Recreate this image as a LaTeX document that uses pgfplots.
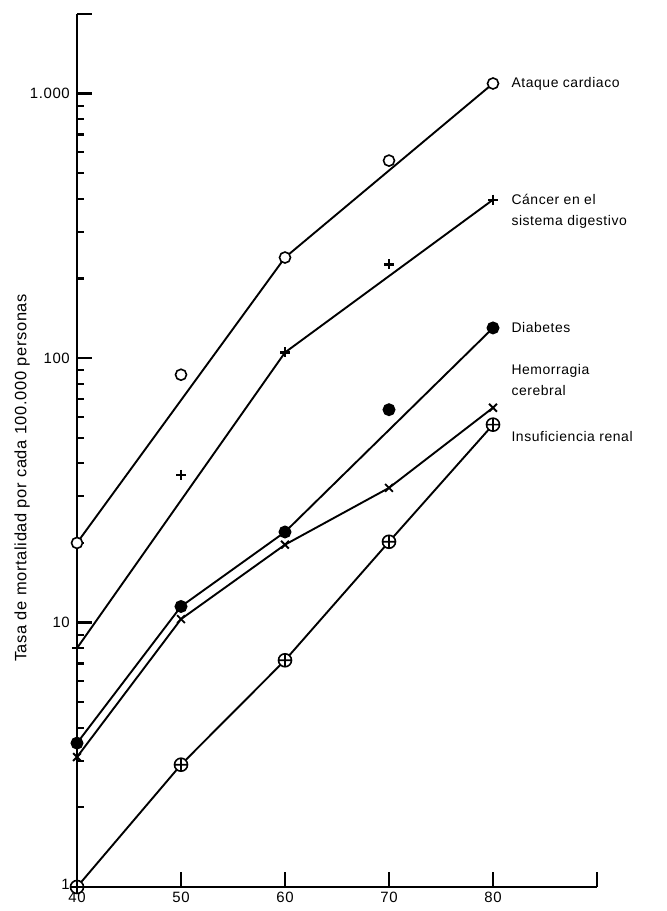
\documentclass[border=0pt]{standalone}
\usepackage{fontspec}
\setmainfont{Liberation Sans}[LetterSpace=4]
\usepackage{pgfplots}
\pgfplotsset{compat=1.18}
\begin{document}
\begin{tikzpicture}
\begin{axis}[
 at={(77bp,24bp)}, anchor=south west,
 scale only axis, width=520bp, height=873bp,
 xmin=40, xmax=90, ymin=1, ymax=2000, ymode=log,
 line width=1.9bp,
 axis x line*=bottom, axis y line*=left,
 axis line style={line width=1.9bp},
 xtick={40,50,...,90}, xticklabels={40,50,60,70,80,{}},
 ytick={1,10,100,1000,2000}, yticklabels={\raisebox{5bp}{1},10,100,{1.000},{}},
 minor ytick={2,...,9,20,30,...,90,200,300,...,900},
 tick align=inside,
 major tick length=15bp, minor tick length=7bp,
 tick style={line width=2.2bp, black},
 major tick style={line width=2.2bp, black},
 minor tick style={line width=2.2bp, black},
 every tick label/.append style={font=\fontsize{15}{17}\selectfont},
 x tick label style={yshift=-1bp},
 y tick label style={xshift=-3bp},
 /pgf/number format/assume math mode=true,
 clip=false,
]
% Ataque cardiaco
\addplot[no marks, line width=1.9bp] coordinates {(40,20) (60,240) (80,1092)};
\addplot[only marks, mark=*, mark size=5.5bp, mark options={fill=white, line width=1.6bp}] coordinates {(40,20) (50,86.5) (60,240) (70,558) (80,1092)};
% Cancer
\addplot[no marks, line width=1.9bp] coordinates {(40,8) (60,105) (80,397)};
\addplot[only marks, mark=+, mark size=5bp, mark options={line width=2.3bp}] coordinates {(40,8) (50,36.2) (60,105) (70,226) (80,397)};
% Diabetes
\addplot[no marks, line width=1.9bp] coordinates {(40,3.5) (50,11.5) (60,22) (80,130)};
\addplot[only marks, mark=*, mark size=5.5bp] coordinates {(40,3.5) (50,11.5) (60,22) (70,63.8) (80,130)};
% Hemorragia
\addplot[no marks, line width=1.9bp] coordinates {(40,3.1) (50,10.3) (60,19.7) (70,32.3) (80,64.9)};
\addplot[only marks, mark=x, mark size=5.5bp, mark options={line width=1.9bp}] coordinates {(40,3.1) (50,10.3) (60,19.7) (70,32.3) (80,64.9)};
% Insuficiencia renal
\addplot[no marks, line width=1.9bp] coordinates {(40,1) (50,2.9) (60,7.2) (70,20.2) (80,56)};
\addplot[only marks, mark=oplus*, mark size=6.5bp, mark options={fill=white, line width=1.6bp}] coordinates {(40,1) (50,2.9) (60,7.2) (70,20.2) (80,56)};
\end{axis}
\begin{scope}[every node/.style={font=\fontsize{14}{21}\selectfont, align=left}]
\node[anchor=west] at (508bp,827bp) {Ataque cardiaco};
\node[anchor=west] at (508bp,700bp) {Cáncer en el\\sistema digestivo};
\node[anchor=west] at (508bp,583bp) {Diabetes};
\node[anchor=west] at (508bp,531bp) {Hemorragia\\cerebral};
\node[anchor=west] at (508bp,474bp) {Insuficiencia renal};
\node[rotate=90, font=\fontsize{16.5}{20}\selectfont] at (22bp,433bp) {Tasa de mortalidad por cada 100.000 personas};
\end{scope}
\pgfresetboundingbox
\path[use as bounding box] (0,0) rectangle (667bp,911bp);
\end{tikzpicture}
\end{document}
